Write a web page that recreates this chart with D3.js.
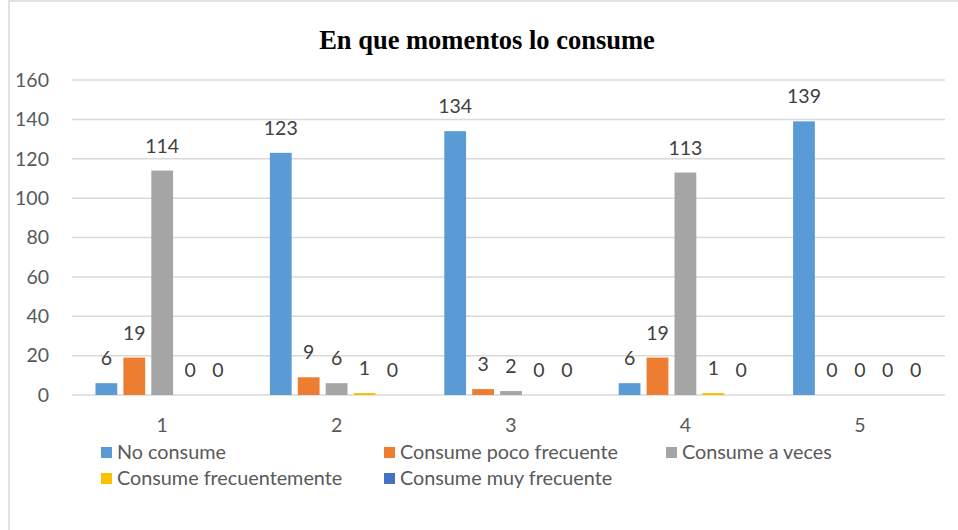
<!DOCTYPE html>
<html>
<head>
<meta charset="utf-8">
<script src="https://cdn.jsdelivr.net/npm/d3@7"></script>
<style>
  body { margin: 0; background: #fff; }
  svg { display: block; }
</style>
</head>
<body>
<svg width="958" height="530"></svg>
<script>
/* Datos */
var categories = ["1", "2", "3", "4", "5"];
var seriesNames = ["No consume", "Consume poco frecuente", "Consume a veces", "Consume frecuentemente", "Consume muy frecuente"];
var seriesColors = ["#5B9BD5", "#ED7D31", "#A5A5A5", "#FFC000", "#4472C4"];
var noConsume = [6, 123, 134, 6, 139];
var pocoFrecuente = [19, 9, 3, 19, 0];
var aVeces = [114, 6, 2, 113, 0];
var frecuentemente = [0, 1, 0, 1, 0];
var muyFrecuente = [0, 0, 0, 0, 0];
var yTicks = [0, 20, 40, 60, 80, 100, 120, 140, 160];

var seriesValues = [noConsume, pocoFrecuente, aVeces, frecuentemente, muyFrecuente];

var svg = d3.select("svg");
var margin = {top: 80, right: 13, bottom: 135, left: 72};
var width = 958 - margin.left - margin.right;
var height = 530 - margin.top - margin.bottom;

var font = "Lato, 'Open Sans', sans-serif";

/* Marco del grafico */
svg.append("rect")
    .attr("x", 9)
    .attr("y", 1)
    .attr("width", 980)
    .attr("height", 560)
    .attr("fill", "#fff")
    .attr("stroke", "#d9d9d9")
    .attr("stroke-width", 1.5);

/* Titulo */
svg.append("text")
    .attr("x", 487)
    .attr("y", 49)
    .attr("text-anchor", "middle")
    .attr("font-family", "'Liberation Serif', 'Times New Roman', serif")
    .attr("font-weight", "bold")
    .attr("font-size", 26.5)
    .attr("fill", "#000")
    .text("En que momentos lo consume");

var group = svg.append("g").attr("transform", "translate(" + margin.left + "," + margin.top + ")");

var x0 = d3.scaleBand()
    .domain(categories)
    .range([3, width + 2])
    .paddingInner(0.235)
    .paddingOuter(0.1175);

var x1 = d3.scaleBand()
    .domain(d3.range(seriesNames.length))
    .range([0, x0.bandwidth()])
    .paddingInner(0.22);

var y = d3.scaleLinear()
    .domain([0, 160])
    .range([height, 0]);

/* Lineas de cuadricula */
group.append("g")
    .selectAll("line")
    .data(yTicks)
    .enter().append("line")
    .attr("x1", 0)
    .attr("x2", width)
    .attr("y1", function(d) { return y(d); })
    .attr("y2", function(d) { return y(d); })
    .attr("stroke", "#d9d9d9")
    .attr("stroke-width", 1.5);

/* Eje y */
var yAxis = group.append("g")
    .call(d3.axisLeft(y).tickValues(yTicks).tickSize(0).tickPadding(23));
yAxis.select(".domain").remove();
yAxis.selectAll("text")
    .attr("font-family", font)
    .attr("font-size", 19.5)
    .attr("fill", "#595959");

/* Eje x */
var xAxis = group.append("g")
    .attr("transform", "translate(0," + height + ")")
    .call(d3.axisBottom(x0).tickSize(0).tickPadding(23));
xAxis.select(".domain").remove();
xAxis.selectAll("text")
    .attr("font-family", font)
    .attr("font-size", 19.5)
    .attr("fill", "#595959");

/* Barras */
var rows = [];
categories.forEach(function(c, i) {
    seriesValues.forEach(function(vals, s) {
        rows.push({cat: c, s: s, value: vals[i]});
    });
});

var bars = group.append("g")
    .selectAll("g")
    .data(rows)
    .enter().append("g")
    .attr("transform", function(d) { return "translate(" + (x0(d.cat) + x1(d.s)) + ",0)"; });

bars.append("rect")
    .attr("x", 0)
    .attr("y", function(d) { return y(d.value); })
    .attr("width", x1.bandwidth())
    .attr("height", function(d) { return height - y(d.value); })
    .attr("fill", function(d) { return seriesColors[d.s]; });

bars.append("text")
    .attr("x", x1.bandwidth() / 2)
    .attr("y", function(d) { return y(d.value) - 18; })
    .attr("text-anchor", "middle")
    .attr("font-family", font)
    .attr("font-size", 19.5)
    .attr("fill", "#404040")
    .text(function(d) { return d.value; });

/* Leyenda */
var legendX = [101, 384, 666];
var legendY = [452, 478];
var legend = svg.append("g")
    .selectAll("g")
    .data(seriesNames)
    .enter().append("g")
    .attr("transform", function(d, i) {
        return "translate(" + legendX[i % 3] + "," + legendY[Math.floor(i / 3)] + ")";
    });

legend.append("rect")
    .attr("x", 0)
    .attr("y", -5)
    .attr("width", 11)
    .attr("height", 11)
    .attr("fill", function(d, i) { return seriesColors[i]; });

legend.append("text")
    .attr("x", 16)
    .attr("y", 0)
    .attr("dy", "0.35em")
    .attr("font-family", font)
    .attr("font-size", 19.8)
    .attr("fill", "#595959")
    .text(function(d) { return d; });
</script>
</body>
</html>
